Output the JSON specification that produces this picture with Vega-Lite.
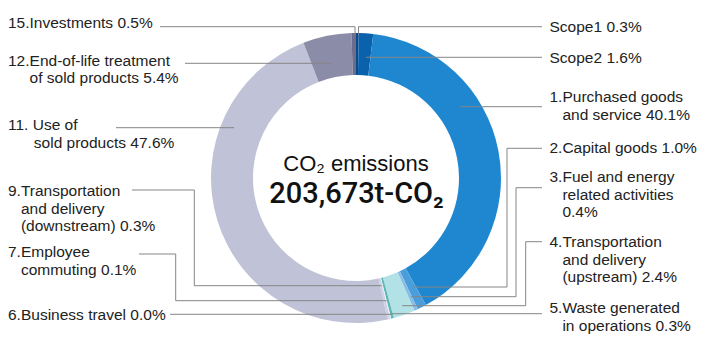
{
  "$schema": "https://vega.github.io/schema/vega-lite/v6.json",
  "width": 703,
  "height": 345,
  "padding": 0,
  "autosize": {"type": "fit", "contains": "padding"},
  "background": "white",
  "config": {"view": {"stroke": null}},
  "datasets": {
    "emissions": [
      {"order": 1, "name": "Scope1", "share": 0.3, "label": "Scope1 "},
      {"order": 2, "name": "Scope2", "share": 1.6, "label": "Scope2 "},
      {"order": 3, "name": "Purchased goods and service", "share": 40.1, "label": "1.Purchased goods\n\u200b\u00a0\u00a0\u00a0and service "},
      {"order": 4, "name": "Capital goods", "share": 1.0, "label": "2.Capital goods "},
      {"order": 5, "name": "Fuel and energy related activities", "share": 0.4, "label": "3.Fuel and energy\n\u200b\u00a0\u00a0\u00a0related activities\n\u200b\u00a0\u00a0\u00a0"},
      {"order": 6, "name": "Transportation and delivery (upstream)", "share": 2.4, "label": "4.Transportation\n\u200b\u00a0\u00a0\u00a0and delivery\n\u200b\u00a0\u00a0\u00a0(upstream) "},
      {"order": 7, "name": "Waste generated in operations", "share": 0.3, "label": "5.Waste generated\n\u200b\u00a0\u00a0\u00a0in operations "},
      {"order": 8, "name": "Business travel", "share": 0.0, "label": "6.Business travel "},
      {"order": 9, "name": "Employee commuting", "share": 0.1, "label": "7.Employee\n\u200b\u00a0\u00a0\u00a0commuting "},
      {"order": 10, "name": "Transportation and delivery (downstream)", "share": 0.3, "label": "9.Transportation\n\u200b\u00a0\u00a0\u00a0and delivery\n\u200b\u00a0\u00a0\u00a0(downstream) "},
      {"order": 11, "name": "Use of sold products", "share": 47.6, "label": "11. Use of\n\u200b\u00a0\u00a0\u00a0\u00a0\u00a0\u00a0sold products "},
      {"order": 12, "name": "End-of-life treatment of sold products", "share": 5.4, "label": "12.End-of-life treatment\n\u200b\u00a0\u00a0\u00a0\u00a0\u00a0of sold products "},
      {"order": 13, "name": "Investments", "share": 0.5, "label": "15.Investments "}
    ],
    "labelSpots": [
      {"name": "Scope1", "lx": 549.5, "ly": 31.5},
      {"name": "Scope2", "lx": 549.5, "ly": 62.5},
      {"name": "Purchased goods and service", "lx": 549.5, "ly": 102.3},
      {"name": "Capital goods", "lx": 549.5, "ly": 153.3},
      {"name": "Fuel and energy related activities", "lx": 549.5, "ly": 182.3},
      {"name": "Transportation and delivery (upstream)", "lx": 549.5, "ly": 247.3},
      {"name": "Waste generated in operations", "lx": 549.5, "ly": 313.3},
      {"name": "Business travel", "lx": 8, "ly": 320},
      {"name": "Employee commuting", "lx": 8, "ly": 257.3},
      {"name": "Transportation and delivery (downstream)", "lx": 8, "ly": 196},
      {"name": "Use of sold products", "lx": 8, "ly": 130},
      {"name": "End-of-life treatment of sold products", "lx": 8, "ly": 65.7},
      {"name": "Investments", "lx": 8, "ly": 28.3}
    ],
    "leaders": [
      {"name": "Scope1", "step": 1, "px": 542, "py": 26.7},
      {"name": "Scope1", "step": 2, "px": 358.5, "py": 26.7},
      {"name": "Scope1", "step": 3, "px": 358.5, "py": 35},
      {"name": "Investments", "step": 1, "px": 160, "py": 26.7},
      {"name": "Investments", "step": 2, "px": 355, "py": 26.7},
      {"name": "Investments", "step": 3, "px": 355, "py": 35},
      {"name": "Scope2", "step": 1, "px": 366, "py": 57.3},
      {"name": "Scope2", "step": 2, "px": 542, "py": 57.3},
      {"name": "Purchased goods and service", "step": 1, "px": 460, "py": 106.7},
      {"name": "Purchased goods and service", "step": 2, "px": 542, "py": 106.7},
      {"name": "Capital goods", "step": 1, "px": 542, "py": 148.3},
      {"name": "Capital goods", "step": 2, "px": 507, "py": 148.3},
      {"name": "Capital goods", "step": 3, "px": 507, "py": 287},
      {"name": "Capital goods", "step": 4, "px": 413, "py": 287},
      {"name": "Fuel and energy related activities", "step": 1, "px": 542, "py": 187.7},
      {"name": "Fuel and energy related activities", "step": 2, "px": 516, "py": 187.7},
      {"name": "Fuel and energy related activities", "step": 3, "px": 516, "py": 296.7},
      {"name": "Fuel and energy related activities", "step": 4, "px": 411, "py": 296.7},
      {"name": "Transportation and delivery (upstream)", "step": 1, "px": 542, "py": 241.7},
      {"name": "Transportation and delivery (upstream)", "step": 2, "px": 525.7, "py": 241.7},
      {"name": "Transportation and delivery (upstream)", "step": 3, "px": 525.7, "py": 305.7},
      {"name": "Transportation and delivery (upstream)", "step": 4, "px": 402, "py": 305.7},
      {"name": "Waste generated in operations", "step": 1, "px": 542, "py": 313.7},
      {"name": "Waste generated in operations", "step": 2, "px": 391, "py": 313.7},
      {"name": "Business travel", "step": 1, "px": 170, "py": 314.3},
      {"name": "Business travel", "step": 2, "px": 391, "py": 314.3},
      {"name": "Employee commuting", "step": 1, "px": 139, "py": 254},
      {"name": "Employee commuting", "step": 2, "px": 175.7, "py": 254},
      {"name": "Employee commuting", "step": 3, "px": 175.7, "py": 300.7},
      {"name": "Employee commuting", "step": 4, "px": 386.7, "py": 300.7},
      {"name": "Transportation and delivery (downstream)", "step": 1, "px": 132, "py": 190},
      {"name": "Transportation and delivery (downstream)", "step": 2, "px": 194.3, "py": 190},
      {"name": "Transportation and delivery (downstream)", "step": 3, "px": 194.3, "py": 285.7},
      {"name": "Transportation and delivery (downstream)", "step": 4, "px": 381.7, "py": 285.7},
      {"name": "Use of sold products", "step": 1, "px": 116, "py": 127.7},
      {"name": "Use of sold products", "step": 2, "px": 234, "py": 127.7},
      {"name": "End-of-life treatment of sold products", "step": 1, "px": 185, "py": 63.3},
      {"name": "End-of-life treatment of sold products", "step": 2, "px": 331, "py": 63.3}
    ],
    "total": [
      {"caption": "CO\u2082 emissions", "tonnes": 203673}
    ]
  },
  "layer": [
    {
      "data": {"name": "emissions"},
      "mark": {"type": "arc", "innerRadius": 103, "outerRadius": 145},
      "encoding": {
        "theta": {"field": "share", "type": "quantitative", "stack": true},
        "order": {"field": "order", "type": "quantitative"},
        "color": {
          "field": "name",
          "type": "nominal",
          "legend": null,
          "scale": {
            "domain": ["Scope1", "Scope2", "Purchased goods and service", "Capital goods", "Fuel and energy related activities", "Transportation and delivery (upstream)", "Waste generated in operations", "Business travel", "Employee commuting", "Transportation and delivery (downstream)", "Use of sold products", "End-of-life treatment of sold products", "Investments"],
            "range": ["#0b4a8b", "#0a62ad", "#1f87d0", "#4a9edb", "#88bde6", "#b2e2e6", "#5db7b7", "#9fd4d6", "#eef6f7", "#cfd2e2", "#c0c2d7", "#8b8ca8", "#6b6d8c"]
          }
        },
        "x": {"datum": 356, "type": "quantitative", "axis": null, "scale": {"domain": [0, 703], "nice": false, "zero": false}},
        "y": {"datum": 178, "type": "quantitative", "axis": null, "scale": {"domain": [0, 345], "nice": false, "zero": false, "reverse": true}}
      }
    },
    {
      "data": {"name": "leaders"},
      "mark": {"type": "line", "color": "#858585", "strokeWidth": 1, "strokeJoin": "miter"},
      "encoding": {
        "x": {"field": "px", "type": "quantitative", "axis": null, "scale": {"domain": [0, 703], "nice": false, "zero": false}},
        "y": {"field": "py", "type": "quantitative", "axis": null, "scale": {"domain": [0, 345], "nice": false, "zero": false, "reverse": true}},
        "detail": {"field": "name"},
        "order": {"field": "step", "type": "quantitative"}
      }
    },
    {
      "data": {"name": "emissions"},
      "transform": [
        {"lookup": "name", "from": {"data": {"name": "labelSpots"}, "key": "name", "fields": ["lx", "ly"]}},
        {"calculate": "datum.label + format(datum.share, '.1f') + '%'", "as": "caption"}
      ],
      "mark": {"type": "text", "align": "left", "baseline": "alphabetic", "font": "Liberation Sans", "fontSize": 15.5, "lineHeight": 17.5, "lineBreak": "\n", "color": "#222222"},
      "encoding": {
        "x": {"field": "lx", "type": "quantitative", "axis": null, "scale": {"domain": [0, 703], "nice": false, "zero": false}},
        "y": {"field": "ly", "type": "quantitative", "axis": null, "scale": {"domain": [0, 345], "nice": false, "zero": false, "reverse": true}},
        "text": {"field": "caption"}
      }
    },
    {
      "data": {"name": "total"},
      "mark": {"type": "text", "align": "center", "baseline": "alphabetic", "font": "Liberation Sans", "fontSize": 22, "color": "#111111"},
      "encoding": {
        "x": {"datum": 356, "type": "quantitative", "axis": null, "scale": {"domain": [0, 703], "nice": false, "zero": false}},
        "y": {"datum": 170.7, "type": "quantitative", "axis": null, "scale": {"domain": [0, 345], "nice": false, "zero": false, "reverse": true}},
        "text": {"field": "caption"}
      }
    },
    {
      "data": {"name": "total"},
      "transform": [
        {"calculate": "format(datum.tonnes, ',') + 't-CO\u2082'", "as": "totalText"}
      ],
      "mark": {"type": "text", "align": "center", "baseline": "alphabetic", "font": "Roboto", "fontWeight": 500, "fontSize": 29, "color": "#111111"},
      "encoding": {
        "x": {"datum": 356.5, "type": "quantitative", "axis": null, "scale": {"domain": [0, 703], "nice": false, "zero": false}},
        "y": {"datum": 203, "type": "quantitative", "axis": null, "scale": {"domain": [0, 345], "nice": false, "zero": false, "reverse": true}},
        "text": {"field": "totalText"}
      }
    }
  ]
}
